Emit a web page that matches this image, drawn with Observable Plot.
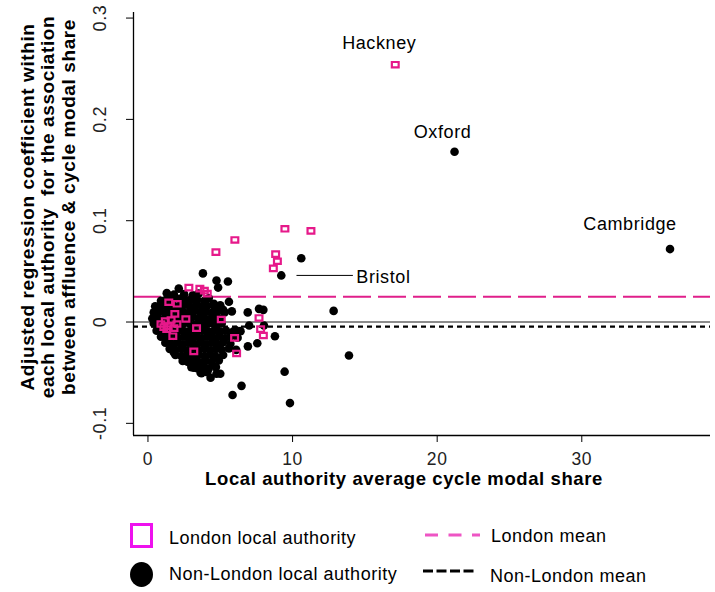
<!DOCTYPE html>
<html><head><meta charset="utf-8">
<script src="https://cdn.jsdelivr.net/npm/d3@7"></script>
<script src="https://cdn.jsdelivr.net/npm/@observablehq/plot@0.6"></script>
<style>
body{margin:0;background:#fff;font-family:"Liberation Sans",Arial,sans-serif;}
#wrap{position:relative;width:715px;height:592px;overflow:hidden;}
#chart svg text{letter-spacing:0.6px;}
#legend{position:absolute;left:0;top:500px;width:715px;height:92px;font-size:18px;letter-spacing:0.5px;color:#000;}
#legend .t{position:absolute;line-height:20px;white-space:nowrap;}
#legend .sq{position:absolute;left:130px;top:23px;width:23px;height:25px;box-sizing:border-box;border:3px solid #ee12ee;}
#legend .ci{position:absolute;left:130px;top:62px;width:23px;height:25px;border-radius:50%;background:#000;}
#legend svg{position:absolute;left:0;top:0;}
</style></head>
<body>
<div id="wrap"><div id="chart"></div>
<div id="legend">
  <div class="sq"></div><span class="t" style="left:169px;top:28px">London local authority</span>
  <div class="ci"></div><span class="t" style="left:169px;top:64px">Non-London local authority</span>
  <svg width="715" height="92">
    <line x1="425" x2="480" y1="35" y2="35" stroke="#ee55c4" stroke-width="3" stroke-dasharray="13,10.5"/>
    <line x1="423" x2="474" y1="71" y2="71" stroke="#000" stroke-width="3" stroke-dasharray="10,3.5"/>
  </svg>
  <span class="t" style="left:491px;top:26px">London mean</span>
  <span class="t" style="left:490px;top:66px">Non-London mean</span>
</div>
</div>
<script>
const xTicks = [0, 10, 20, 30];
const yTicks = [-0.1, 0, 0.1, 0.2, 0.3];
const yTickLabels = ["-0.1", "0", "0.1", "0.2", "0.3"];
const xTitle = "Local authority average cycle modal share";
const yTitle = "Adjusted regression coefficient within\neach local authority  for the association\nbetween affluence & cycle modal share";
const londonMean = 0.025;
const nonLondonMean = -0.0045;

const london = [
[17.1,0.254],[9.47,0.092],[11.27,0.090],[8.83,0.067],[8.95,0.060],[8.67,0.053],[6.01,0.081],[4.70,0.069],
[2.83,0.034],[3.59,0.033],[3.9,0.031],[4.1,0.028],[1.44,0.0195],[2.02,0.018],[1.86,0.008],[2.62,0.003],
[5.07,0.0025],[7.68,0.004],[3.36,-0.006],[7.79,-0.007],[1.72,-0.014],[5.99,-0.0156],[7.98,-0.0133],[3.17,-0.029],[6.13,-0.031],
[0.9,-0.002],[1.2,0.001],[1.4,-0.004],[1.6,0.002],[1.8,-0.006],[1.3,-0.007],[2.0,-0.002],[1.1,-0.005]
];

const nonLondon = [
[21.2,0.168],[36.1,0.072],[9.22,0.046],[10.6,0.063],[12.84,0.011],[13.9,-0.033],[9.45,-0.049],[9.82,-0.080],[6.47,-0.063],[5.85,-0.072],
[3.8,0.048],[4.74,0.041],[5.53,0.040],[4.85,0.034],[2.13,0.033],[5.6,0.020],[4.56,0.018],[5.2,0.012],[6.9,0.0095],[7.68,0.013],[7.98,0.012],[7.0,-0.0035],[8.02,-0.0035],[8.78,-0.014],[7.56,-0.021],[6.91,-0.024],[6.06,-0.008],[4.74,-0.051],[4.33,-0.055],[3.64,-0.050],[3.17,-0.045],[2.71,-0.039],[1.79,-0.030],[1.56,0.026],[0.64,0.003],[0.52,0.0055],
[1.3,0.0285],[1.8,0.027],[2.5,0.0275],[3.1,0.0265],[3.5,0.028],
[0.9,0.021],[1.3,0.0225],[1.7,0.0215],[2.2,0.023],[2.6,0.0215],[3.0,0.0225],[3.4,0.022],[3.9,0.021],[4.2,0.0235],
[0.5,0.0155],[0.9,0.0165],[1.3,0.015],[1.7,0.0165],[2.1,0.0155],[2.5,0.017],[2.9,0.015],[3.3,0.0165],[3.7,0.0155],[4.1,0.016],[4.6,0.015],[5.0,0.0165],
[0.4,0.0095],[0.8,0.0105],[1.2,0.009],[1.6,0.011],[2.0,0.0095],[2.4,0.0105],[2.8,0.009],[3.2,0.011],[3.6,0.0095],[4.0,0.0105],[4.4,0.009],[4.8,0.0105],[5.3,0.0095],[5.8,0.0105],
[0.3,0.0035],[0.7,0.0045],[1.1,0.003],[1.5,0.005],[1.9,0.0035],[2.3,0.0045],[2.7,0.003],[3.1,0.005],[3.5,0.0035],[3.9,0.0045],[4.3,0.003],[4.7,0.0045],[5.0,0.0035],
[0.4,-0.0015],[0.8,-0.0025],[1.2,-0.001],[1.6,-0.003],[2.0,-0.0015],[2.4,-0.0025],[2.8,-0.001],[3.2,-0.003],[3.6,-0.0015],[4.0,-0.0025],[4.4,-0.001],[4.8,-0.0025],[5.1,-0.0015],
[0.6,-0.0085],[1.0,-0.0095],[1.4,-0.008],[1.8,-0.01],[2.2,-0.0085],[2.6,-0.0095],[3.0,-0.008],[3.4,-0.01],[3.8,-0.0085],[4.2,-0.0095],[4.6,-0.008],[5.0,-0.0095],[5.4,-0.0085],[5.9,-0.0095],[6.4,-0.009],
[0.9,-0.0145],[1.3,-0.0155],[1.7,-0.014],[2.1,-0.016],[2.5,-0.0145],[2.9,-0.0155],[3.3,-0.014],[3.7,-0.016],[4.1,-0.0145],[4.5,-0.0155],[4.9,-0.014],[5.3,-0.016],[5.7,-0.0145],[6.2,-0.0155],
[1.2,-0.0205],[1.6,-0.0215],[2.0,-0.02],[2.4,-0.022],[2.8,-0.0205],[3.2,-0.0215],[3.6,-0.02],[4.0,-0.022],[4.4,-0.0205],[4.8,-0.0215],[5.2,-0.02],[5.7,-0.0215],
[1.5,-0.0265],[1.9,-0.0275],[2.3,-0.026],[2.7,-0.028],[3.1,-0.0265],[3.5,-0.0275],[3.9,-0.026],[4.3,-0.028],[4.7,-0.0265],[5.1,-0.0275],[5.6,-0.026],[6.1,-0.0275],
[1.9,-0.0325],[2.3,-0.0335],[2.7,-0.032],[3.1,-0.034],[3.5,-0.0325],[3.9,-0.0335],[4.3,-0.032],[4.7,-0.034],[5.2,-0.0325],
[2.4,-0.0385],[2.8,-0.0395],[3.2,-0.038],[3.6,-0.04],[4.0,-0.0385],[4.4,-0.0395],[4.9,-0.038],
[3.0,-0.0445],[3.4,-0.0455],[3.8,-0.044],[4.2,-0.046],[4.7,-0.0445],
[3.7,-0.0505],[4.1,-0.0495],[5.0,-0.051]
];

const hackney = [{name: "Hackney", x: 17.1, y: 0.254}];
const oxford = [{name: "Oxford", x: 21.2, y: 0.168}];
const cambridge = [{name: "Cambridge", x: 36.1, y: 0.072}];
const bristol = [{name: "Bristol", x: 9.22, y: 0.046}];

const xDomain = [-1, 38.9];
const yDomain = [-0.112, 0.3055];

const rectSymbol = {
  draw(ctx, size) {
    ctx.moveTo(-3.4, -2.7); ctx.lineTo(3.4, -2.7); ctx.lineTo(3.4, 2.7); ctx.lineTo(-3.4, 2.7); ctx.closePath();
  }
};

const lbl = {fontSize: 18, fill: "#000", x: "x", y: "y", text: "name"};

const chart = Plot.plot({
  width: 715, height: 500,
  marginLeft: 133, marginRight: 5, marginTop: 12, marginBottom: 65,
  x: {domain: xDomain, axis: null},
  y: {domain: yDomain, axis: null},
  style: {fontFamily: "'Liberation Sans', Arial, sans-serif", background: "#fff", overflow: "visible"},
  marks: [
    Plot.ruleY([0], {stroke: "#8c8c8c", strokeWidth: 2}),
    Plot.ruleY([londonMean], {stroke: "#e01f8a", strokeWidth: 2, strokeDasharray: "28,7"}),
    Plot.ruleY([nonLondonMean], {stroke: "#000", strokeWidth: 2.2, strokeDasharray: "5,4"}),
    Plot.dot(nonLondon, {x: d => d[0], y: d => d[1], r: 4.3, fill: "#000", stroke: "none"}),
    Plot.dot(london, {x: d => d[0], y: d => d[1], symbol: rectSymbol, r: 3, fill: "none", stroke: "#e6198a", strokeWidth: 2.2}),
    Plot.link(bristol, {x1: d => d.x + 1.05, x2: d => d.x + 4.95, y1: "y", y2: "y", stroke: "#000", strokeWidth: 1}),
    Plot.text(hackney, {...lbl, dx: -16, dy: -21}),
    Plot.text(oxford, {...lbl, dx: -12, dy: -20}),
    Plot.text(cambridge, {...lbl, dx: -40, dy: -25}),
    Plot.text(bristol, {...lbl, textAnchor: "start", dx: 75, dy: 2}),
    Plot.ruleX([xDomain[0]], {stroke: "#000", strokeWidth: 1.3}),
    Plot.ruleY([yDomain[0]], {stroke: "#000", strokeWidth: 1.3}),
    Plot.axisX({ticks: xTicks, tickSize: 7, tickPadding: 10, fontSize: 17.5, label: null, stroke: "#000", fill: "#222"}),
    Plot.axisY({ticks: yTicks, tickSize: 7, tickFormat: () => "", label: null, stroke: "#000"}),
    Plot.text(yTicks, {y: d => d, text: (d, i) => yTickLabels[i], frameAnchor: "left", textAnchor: "middle", lineAnchor: "middle", dx: -33, rotate: -90, fontSize: 18, fill: "#222"}),
    Plot.text([xTitle], {text: d => d, frameAnchor: "bottom", textAnchor: "middle", lineAnchor: "middle", dx: -18, dy: 44, fontWeight: "bold", fontSize: 18.5, fill: "#000"}),
    Plot.text([yTitle], {text: d => d, frameAnchor: "left", textAnchor: "middle", lineAnchor: "middle", dx: -86, dy: -17, rotate: -90, lineHeight: 1.08, fontWeight: "bold", fontSize: 19, fill: "#000"})
  ]
});
document.getElementById("chart").appendChild(chart);
</script>
</body></html>
